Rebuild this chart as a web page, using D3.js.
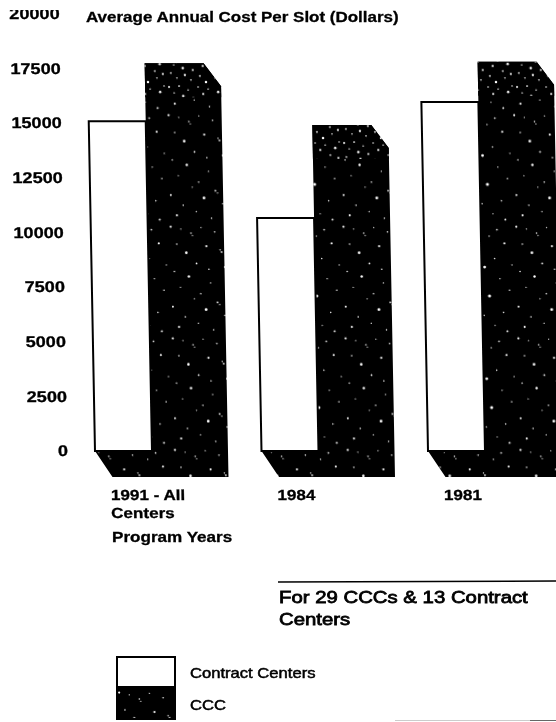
<!DOCTYPE html>
<html>
<head>
<meta charset="utf-8">
<script src="https://cdn.jsdelivr.net/npm/d3@7"></script>
<style>
	html, body { margin: 0; padding: 0; background: #fff; }
	text { font-family: "Liberation Sans", sans-serif; font-weight: bold; fill: #000; stroke: #000; stroke-width: 0.3px; }
</style>
</head>
<body>
<div id="chart"></div>
<script>
const categories = ["1991 - All", "1984", "1981"];
const categoryExtra = ["Centers", "", ""];
const contractCenters = [15080, 10650, 15950];
const ccc = [17730, 14900, 17800];
const yTicks = [0, 2500, 5000, 7500, 10000, 12500, 15000, 17500, 20000];
const legendLabels = ["Contract Centers", "CCC"];
const noteLines = ["For 29 CCCs & 13 Contract", "Centers"];
// speckle texture only, not data
const speckle = [[3,5,1],[11,29,.7],[17,8,.6],[24,41,1.2],[31,14,.7],[33,17,.6],[38,56,.8],[45,6,.6],[52,32,1],[7,67,.7],[15,89,.6],[27,74,1.1],[34,105,.6],[43,98,.7],[50,120,1.3],[57,83,.6],[21,130,.7],[4,116,.9],[39,139,.6],[55,64,.7],[12,144,1],[64,12,.7],[71,37,.6],[73,40,.8],[78,61,1.3],[85,18,.6],[92,49,.7],[99,77,.6],[106,28,1],[112,93,.7],[66,110,.8],[69,113,.6],[76,128,.7],[84,101,1.4],[91,142,.6],[103,124,.7],[108,150,.9],[116,58,.6],[60,148,.7],[96,9,.8]];
const speckleDense = [[2,3,.8],[7,9,.6],[12,2,.7],[16,12,1],[21,6,.6],[26,14,.8],[31,3,.6],[36,10,.9],[41,5,.6],[46,15,.7],[51,8,1],[55,2,.6],[4,17,.7],[10,22,.6],[18,19,.9],[24,24,.6],[33,20,.7],[39,26,1],[48,22,.6],[54,18,.8]];

const width = 556, height = 722;
const baseline = 451, slant = 0.019;
const depthX = 17, depthY = 26, bevelY = 23;
const stretch = 1.17;

const svg = d3.select("#chart").append("svg")
	.attr("width", width)
	.attr("height", height)
	.style("display", "block");

const defs = svg.append("defs");
defs.append("filter").attr("id", "scan")
	.append("feGaussianBlur").attr("stdDeviation", 0.5);

const addPattern = (id, w, h, dots, scale, grow) => {
	const p = defs.append("pattern")
		.attr("id", id)
		.attr("patternUnits", "userSpaceOnUse")
		.attr("patternTransform", `scale(${scale})`)
		.attr("width", w)
		.attr("height", h);
	p.append("rect").attr("width", w).attr("height", h).attr("fill", "#000");
	p.selectAll("circle").data(dots).enter().append("circle")
		.attr("cx", d => d[0])
		.attr("cy", d => d[1])
		.attr("r", d => d[2] * grow)
		.attr("fill", "#fff");
};
addPattern("speckle", 120, 155, speckle, 0.72, 1.5);
addPattern("speckle-dense", 58, 28, speckleDense, 1, 1.25);

// the scan is wider than any installed face, so stretch the glyphs
const widen = (sel) => {
	sel.each(function () {
		const len = this.getComputedTextLength();
		if (len > 0) {
			d3.select(this)
				.attr("textLength", len * stretch)
				.attr("lengthAdjust", "spacingAndGlyphs");
		}
	});
};

const root = svg.append("g").attr("filter", "url(#scan)");
const plot = root.append("g")
	.attr("transform", `matrix(1,0,${slant},1,${-slant * baseline},0)`);

const x = d3.scaleBand().domain(categories).range([95, 485]).paddingInner(0.6577);
const y = d3.scaleLinear().domain([0, 20000]).range([baseline, 13.5]);

const yAxis = d3.axisLeft(y).tickValues(yTicks).tickSize(0).tickPadding(0).tickFormat(d3.format("d"));
plot.append("g")
	.attr("transform", "translate(68,0)")
	.call(yAxis)
	.call(g => g.select(".domain").remove())
	.selectAll("text")
	.style("font-size", "15.5px")
	.style("font-family", "'Liberation Sans', sans-serif")
	.call(widen);

const shape = d3.line();
const cccShape = (d, i) => {
	const left = x(categories[i]);
	const front = left + x.bandwidth();
	const top = y(d);
	return shape([
		[front, top],
		[front + 59, top],
		[front + 59 + depthX, top + bevelY],
		[front + 59 + depthX, baseline + depthY],
		[left + depthX, baseline + depthY],
		[left, baseline],
		[front, baseline]
	]) + "Z";
};

plot.selectAll("path.ccc").data(ccc).enter().append("path")
	.attr("class", "ccc")
	.attr("d", cccShape)
	.attr("fill", "url(#speckle)");

// the tops of the dark bars are more speckled
plot.selectAll("path.ccc-top").data(ccc).enter().append("path")
	.attr("class", "ccc-top")
	.attr("d", (d, i) => {
		const front = x(categories[i]) + x.bandwidth();
		const top = y(d);
		return shape([
			[front, top],
			[front + 59, top],
			[front + 59 + depthX, top + bevelY],
			[front + 59 + depthX, top + 34],
			[front, top + 34]
		]) + "Z";
	})
	.attr("fill", "url(#speckle-dense)");

plot.selectAll("rect.contract").data(contractCenters).enter().append("rect")
	.attr("class", "contract")
	.attr("x", (d, i) => x(categories[i]))
	.attr("y", d => y(d))
	.attr("width", x.bandwidth())
	.attr("height", d => baseline - y(d))
	.attr("fill", "#fff")
	.attr("stroke", "#000")
	.attr("stroke-width", 2);

// x labels sit below the depth of the bars
plot.selectAll("text.cat").data(categories).enter().append("text")
	.attr("class", "cat")
	.attr("x", d => x(d) + 15)
	.attr("y", 500)
	.style("font-size", "14.6px")
	.text(d => d)
	.call(widen);

plot.selectAll("text.cat2").data(categoryExtra).enter().append("text")
	.attr("class", "cat2")
	.attr("x", (d, i) => x(categories[i]) + 15)
	.attr("y", 518)
	.style("font-size", "14.6px")
	.text(d => d)
	.call(widen);

root.append("text")
	.attr("x", 112)
	.attr("y", 542)
	.style("font-size", "14.6px")
	.text("Program Years")
	.call(widen);

root.append("text")
	.attr("x", 86)
	.attr("y", 22)
	.style("font-size", "14.5px")
	.text("Average Annual Cost Per Slot (Dollars)")
	.call(widen);

// the scan cuts off the top of the first line
root.append("rect")
	.attr("width", width)
	.attr("height", 10)
	.attr("fill", "#fff");

root.append("line")
	.attr("x1", 278).attr("x2", width)
	.attr("y1", 582).attr("y2", 581)
	.attr("stroke", "#000")
	.attr("stroke-width", 1.5);

root.selectAll("text.note").data(noteLines).enter().append("text")
	.attr("class", "note")
	.attr("x", 279)
	.attr("y", (d, i) => 603 + i * 22)
	.style("font-size", "17.4px")
	.style("font-weight", "normal")
	.style("stroke-width", "0.8px")
	.text(d => d)
	.call(widen);

const legend = root.selectAll("g.legend").data(legendLabels).enter().append("g")
	.attr("class", "legend")
	.attr("transform", (d, i) => `translate(117,${657 + i * 32})`);

legend.append("rect")
	.attr("width", 58)
	.attr("height", 30)
	.attr("fill", (d, i) => i === 0 ? "#fff" : "url(#speckle)")
	.attr("stroke", "#000")
	.attr("stroke-width", 2);

legend.append("text")
	.attr("x", 73)
	.attr("y", 21)
	.style("font-size", "14.2px")
	.style("font-weight", "normal")
	.style("stroke-width", "0.5px")
	.text(d => d)
	.call(widen);

root.append("line")
	.attr("x1", 395).attr("x2", width)
	.attr("y1", 720.5).attr("y2", 720.5)
	.attr("stroke", "#ccc");
root.append("line")
	.attr("x1", 530).attr("x2", width)
	.attr("y1", 720.5).attr("y2", 720.5)
	.attr("stroke", "#666");
</script>
</body>
</html>
